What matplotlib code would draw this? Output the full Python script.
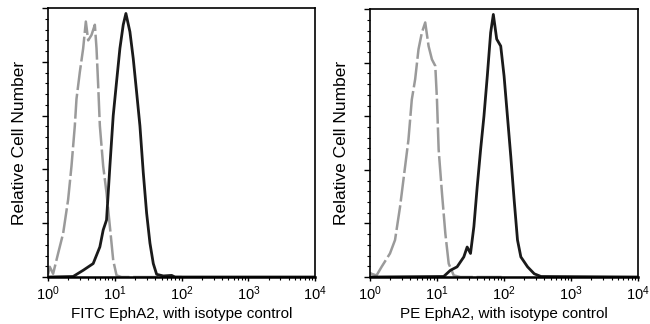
import matplotlib.pyplot as plt
import numpy as np

plt.rcParams['font.family'] = ['Liberation Sans', 'DejaVu Sans']

# log10 of fluorescence intensity and relative counts (axis units 0-5)
fitc_iso_x = [0.0, 0.025, 0.075, 0.15, 0.225, 0.30, 0.35, 0.40, 0.425, 0.475, 0.525, 0.565,
              0.60, 0.65, 0.70, 0.725, 0.75, 0.775, 0.825, 0.875, 0.925, 0.975, 1.025, 1.1, 2.0]
fitc_iso_y = [0.05, 0.19, 0.06, 0.44, 0.81, 1.44, 2.06, 2.81, 3.31, 3.81, 4.25, 4.75,
              4.40, 4.50, 4.69, 4.25, 3.56, 2.81, 2.06, 1.56, 0.94, 0.31, 0.03, 0.0, 0.0]

fitc_ab_x = [0.0, 0.375, 0.525, 0.675, 0.775, 0.825, 0.875, 0.90, 0.925, 0.975, 1.025, 1.075,
             1.125, 1.165, 1.225, 1.275, 1.325, 1.375, 1.425, 1.475, 1.525, 1.575, 1.625,
             1.725, 1.85, 1.9, 4.0]
fitc_ab_y = [0.0, 0.01, 0.125, 0.25, 0.56, 0.875, 1.06, 1.56, 2.06, 3.0, 3.63, 4.25,
             4.69, 4.90, 4.56, 4.06, 3.44, 2.81, 1.94, 1.19, 0.63, 0.25, 0.05,
             0.02, 0.03, 0.0, 0.0]

pe_iso_x = [0.0, 0.025, 0.10, 0.175, 0.30, 0.375, 0.45, 0.525, 0.575, 0.625, 0.675, 0.725,
            0.775, 0.825, 0.875, 0.925, 0.975, 1.0, 1.025, 1.075, 1.125, 1.175, 1.25, 1.35, 2.0]
pe_iso_y = [0.08, 0.06, 0.03, 0.19, 0.44, 0.69, 1.31, 2.06, 2.56, 3.31, 3.69, 4.25,
            4.56, 4.75, 4.31, 4.06, 3.94, 3.31, 2.38, 1.56, 0.81, 0.25, 0.03, 0.0, 0.0]

pe_ab_x = [0.0, 1.1, 1.2, 1.3, 1.4, 1.45, 1.5, 1.55, 1.6, 1.65, 1.7, 1.75, 1.8, 1.84,
           1.89, 1.95, 2.0, 2.05, 2.1, 2.15, 2.2, 2.25, 2.35, 2.45, 2.55, 4.0]
pe_ab_y = [0.0, 0.01, 0.125, 0.19, 0.375, 0.56, 0.44, 0.94, 1.69, 2.375, 3.0, 3.75, 4.56, 4.90,
           4.44, 4.31, 3.75, 3.0, 2.25, 1.44, 0.69, 0.375, 0.19, 0.06, 0.01, 0.0]

xlabels = ['FITC EphA2, with isotype control', 'PE EphA2, with isotype control']

fig = plt.figure(figsize=(6.5, 3.24), dpi=100)
ax1 = fig.add_axes([0.074, 0.145, 0.411, 0.830])
ax2 = fig.add_axes([0.569, 0.145, 0.413, 0.827])

panels = [(ax1, fitc_iso_x, fitc_iso_y, fitc_ab_x, fitc_ab_y, xlabels[0]),
          (ax2, pe_iso_x, pe_iso_y, pe_ab_x, pe_ab_y, xlabels[1])]

for ax, ix, iy, bx, by, lab in panels:
    ax.plot(10 ** np.array(ix), iy, color='#9a9a9a', lw=1.8, dashes=(10, 1.5))
    ax.plot(10 ** np.array(bx), by, color='#1a1a1a', lw=2.0)
    ax.set_xscale('log')
    ax.set_xlim(1, 1e4)
    ax.set_ylim(0, 5)
    ax.set_yticks(np.arange(0, 5.01, 1))
    ax.set_yticks(np.arange(0, 5.01, 0.2), minor=True)
    ax.set_yticklabels([])
    ax.set_xticks([1, 10, 100, 1000, 10000])
    ax.tick_params(axis='both', which='major', direction='out', length=4, width=1,
                   labelsize=10.5, pad=2)
    ax.tick_params(axis='both', which='minor', direction='out', length=2, width=0.8)
    ax.tick_params(axis='x', which='major', length=3)
    for sp in ax.spines.values():
        sp.set_linewidth(1.2)
    ax.spines['bottom'].set_linewidth(1.8)
    ax.set_xlabel(lab, fontsize=11, labelpad=3)
    ax.set_ylabel('Relative Cell Number', fontsize=12.5, labelpad=9)

fig.savefig('out.png', dpi=100)
